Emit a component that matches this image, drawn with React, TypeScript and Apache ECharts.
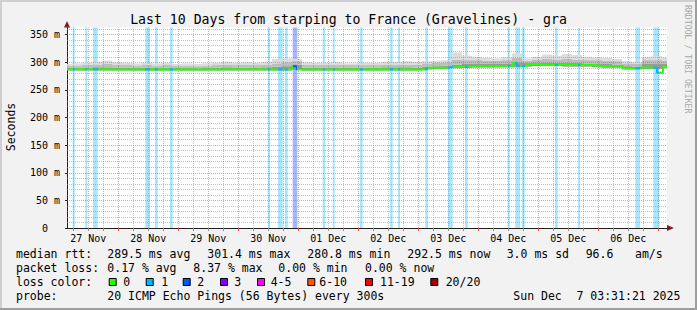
import React, { useEffect, useRef } from 'react';
import * as echarts from 'echarts';

const titleText = 'Last 10 Days from starping to France (Gravelines) - gra';
const yAxisTitle = 'Seconds';
const watermark = 'RRDTOOL / TOBI OETIKER';

// x values: hours since Thu 27 Nov 00:00
const startHour = 3.5225;
const endHour = 243.5225;

const dayLabels = ['27 Nov', '28 Nov', '29 Nov', '30 Nov', '01 Dec', '02 Dec', '03 Dec', '04 Dec', '05 Dec', '06 Dec'];
const dayLabelHours = [12, 36, 60, 84, 108, 132, 156, 180, 204, 228];
const midnightHours = [24, 48, 72, 96, 120, 144, 168, 192, 216, 240];
const sixHourTicks = [6, 12, 18, 24, 30, 36, 42, 48, 54, 60, 66, 72, 78, 84, 90, 96, 102, 108, 114, 120, 126, 132, 138, 144, 150, 156, 162, 168, 174, 180, 186, 192, 198, 204, 210, 216, 222, 228, 234, 240];

// median RTT (ms), step changes
const medianHours = [3.52, 12.7, 28.7, 40.7, 56.7, 72.7, 90.7, 93.5, 95.5, 108.7, 128.7, 147.5, 156.7, 161.9, 168.7, 181.9, 183.5, 187.5, 193.9, 215.5, 225.9, 232.7, 239.5, 241.9, 243.52];
const medianValues = [287.5, 287, 287.5, 287, 287.5, 287, 287.5, 293, 287, 287.5, 287, 290, 291.5, 292.5, 293.5, 299, 293.5, 296.5, 295, 293.5, 289, 290.5, 281, 291.5, 292.5];

// smoke (ms), one value every 4 hours from the start
const smokeLow = [285, 285, 285, 285, 285, 285, 285, 285, 285, 285, 285, 285, 285, 285, 285, 285, 285, 285, 285, 285, 285, 285, 285, 286, 285, 285, 285, 285, 285, 285, 285, 285, 285, 285, 285, 285, 287, 288, 289, 289, 290, 291, 291, 291, 291, 291, 292, 293, 293, 293, 292, 292, 292, 291, 290, 290, 287, 287, 288, 288, 289];
const smokeDark = [290, 290, 290, 291, 291, 290, 290, 290, 290, 290, 290, 290, 290, 289, 290, 290, 291, 290, 290, 290, 291, 292, 293, 296, 290, 290, 290, 290, 290, 290, 290, 290, 291, 291, 291, 290, 292, 293, 294, 296, 297, 297, 297, 297, 297, 300, 299, 300, 300, 299, 299, 299, 298, 298, 297, 296, 293, 292, 297, 297, 297];
const smokeMid = [294, 294, 295, 296, 297, 295, 295, 294, 295, 294, 295, 294, 294, 293, 294, 295, 296, 295, 295, 295, 296, 298, 300, 302, 295, 295, 295, 295, 295, 295, 295, 295, 296, 296, 296, 296, 298, 299, 300, 305, 304, 304, 303, 303, 304, 308, 303, 305, 306, 305, 306, 305, 304, 304, 303, 302, 298, 297, 304, 304, 303];
const smokeHigh = [297, 298, 299, 301, 303, 300, 299, 298, 299, 298, 299, 297, 298, 297, 298, 299, 301, 299, 300, 299, 301, 306, 307, 306, 300, 299, 299, 300, 298, 298, 299, 299, 301, 301, 302, 301, 302, 303, 304, 318, 312, 310, 308, 307, 309, 316, 307, 310, 314, 312, 315, 313, 310, 309, 308, 306, 302, 300, 310, 311, 309];

// loss periods (hours since 27 Nov 00:00) and loss level (pings lost of 20)
const lossStart = [5.8, 10.84, 13.92, 34.84, 38.72, 44.72, 83.92, 87.92, 90.72, 93.8, 105.8, 109.8, 120.72, 132.72, 135.92, 146.84, 155.92, 162.72, 179.8, 182.84, 185.52, 198.72, 207.92, 230.84, 238.04];
const lossEnd = [6.6, 11.64, 15.8, 36.72, 39.8, 45.8, 84.72, 89.8, 91.8, 95.64, 106.72, 110.6, 121.8, 133.8, 136.72, 147.92, 157.8, 163.8, 180.6, 184.72, 186.6, 199.8, 208.72, 232.72, 240.44];
const lossLevel = [1, 1, 1, 1, 1, 1, 1, 1, 1, 2, 1, 1, 1, 1, 1, 1, 1, 1, 1, 1, 1, 1, 1, 1, 1];

const rttLabel = 'median rtt:';
const rttStats = ['289.5 ms avg', '301.4 ms max', '280.8 ms min', '292.5 ms now', '3.0 ms sd', '96.6', 'am/s'];
const lossLabel = 'packet loss:';
const lossStats = ['0.17 % avg', '8.37 % max', '0.00 % min', '0.00 % now'];
const lossColorLabel = 'loss color:';
const lossColorNames = ['0', '1', '2', '3', '4-5', '6-10', '11-19', '20/20'];
const lossColors = ['#26ff00', '#00b8ff', '#0059ff', '#7e00ff', '#ff00ff', '#ff5500', '#ff0000', '#a10000'];
const probeLabel = 'probe:';
const probeText = '20 ICMP Echo Pings (56 Bytes) every 300s';
const dateParts = ['Sun Dec', '7 03:31:21 2025'];

const FONT = "'DejaVu Sans Mono', monospace";
const MINOR = 'rgba(140,140,140,0.55)';
const MAJOR = 'rgba(222,79,79,0.55)';
const bandColors: Record<number, string> = { 1: '#a9e5fb', 2: '#a6b6fb' };
const smokeColors = ['#9a9a9a', '#bdbdbd', '#dcdcdc'];

// layout
const rttX = [107.3, 207.3, 307.3, 407.3, 506.7, 585.7, 635];
const lossX = [107.3, 193.3, 278.3, 365];
const squareX = [108.7, 145.7, 182.7, 220, 257, 307.3, 365, 430.3];
const squareLabelX = [123.3, 161.3, 197.3, 234.3, 270.7, 319.3, 380, 445.7];
const dateX = [513.3, 576.5];

function buildOption() {
  const gridLines: any[] = [];
  sixHourTicks.forEach((h) => {
    if (h > startHour && h < endHour) {
      gridLines.push({ xAxis: h, lineStyle: { color: h % 24 === 0 ? MAJOR : MINOR } });
    }
  });
  for (let v = 10; v <= 360; v += 10) {
    gridLines.push({ yAxis: v, lineStyle: { color: v % 50 === 0 ? MAJOR : MINOR } });
  }

  const bands = lossStart.map((s, i) => [
    { xAxis: s, itemStyle: { color: bandColors[lossLevel[i]] } },
    { xAxis: Math.min(lossEnd[i], endHour) },
  ]);

  const smokeData = smokeLow.map((v, i) => {
    const c = startHour + 4 * i;
    return [Math.max(startHour, c - 2), Math.min(endHour, c + 2), v, smokeDark[i], smokeMid[i], smokeHigh[i]];
  });

  const text = (x: number, y: number, t: string, extra: any = {}) => ({
    type: 'text',
    x,
    y,
    silent: true,
    style: {
      text: t,
      fill: '#000',
      font: `11.5px ${FONT}`,
      textAlign: 'left',
      textVerticalAlign: 'middle',
      ...extra,
    },
  });

  const graphics: any[] = [
    { type: 'rect', shape: { x: 0, y: 0, width: 697, height: 2 }, style: { fill: '#cfcfcf' }, silent: true },
    { type: 'rect', shape: { x: 0, y: 0, width: 2, height: 310 }, style: { fill: '#cfcfcf' }, silent: true },
    { type: 'rect', shape: { x: 0, y: 308, width: 697, height: 2 }, style: { fill: '#9e9e9e' }, silent: true },
    { type: 'rect', shape: { x: 695, y: 0, width: 2, height: 310 }, style: { fill: '#9e9e9e' }, silent: true },
    { type: 'polygon', shape: { points: [[64, 27.5], [70, 27.5], [67, 21]] }, style: { fill: '#801f1f' }, silent: true, z: 50 },
    { type: 'polygon', shape: { points: [[667, 225], [667, 231], [674, 228]] }, style: { fill: '#801f1f' }, silent: true, z: 50 },
    text(348.5, 19, titleText, { font: `13.2px ${FONT}`, textAlign: 'center' }),
    { ...text(11, 127, yAxisTitle, { textAlign: 'center' }), rotation: Math.PI / 2 },
    { ...text(688, 5, watermark, { font: `8.2px ${FONT}`, fill: '#a8a8a8' }), rotation: -Math.PI / 2 },
    text(16, 254, rttLabel),
    text(16, 268, lossLabel),
    text(16, 282, lossColorLabel),
    text(16, 296, probeLabel),
    text(107.3, 296, probeText),
  ];
  rttStats.forEach((s, i) => graphics.push(text(rttX[i], 254, s)));
  lossStats.forEach((s, i) => graphics.push(text(lossX[i], 268, s)));
  lossColorNames.forEach((s, i) => {
    graphics.push({
      type: 'rect',
      shape: { x: squareX[i] + 0.5, y: 278.5, width: 7, height: 7 },
      style: { fill: lossColors[i], stroke: '#000', lineWidth: 1 },
      silent: true,
    });
    graphics.push(text(squareLabelX[i], 282, s));
  });
  dateParts.forEach((s, i) => graphics.push(text(dateX[i], 296, s)));

  return {
    animation: false,
    backgroundColor: '#f2f2f2',
    textStyle: { fontFamily: FONT },
    grid: {
      left: 67,
      top: 27.5,
      width: 600,
      height: 200.5,
      show: true,
      backgroundColor: '#ffffff',
      borderWidth: 0,
      outerBoundsMode: 'none',
    },
    xAxis: [
      {
        type: 'value',
        min: startHour,
        max: endHour,
        axisLine: { show: true, lineStyle: { color: '#1f1f1f', width: 1 } },
        axisTick: { show: true, length: 3, customValues: sixHourTicks, lineStyle: { color: '#8c8c8c' } },
        axisLabel: {
          customValues: dayLabelHours,
          formatter: (v: number) => {
            const i = dayLabelHours.findIndex((h) => Math.abs(h - v) < 0.01);
            return i >= 0 ? dayLabels[i] : '';
          },
          color: '#000',
          fontSize: 10,
          fontFamily: FONT,
          margin: 5,
        },
        splitLine: { show: false },
      },
      {
        type: 'value',
        min: startHour,
        max: endHour,
        position: 'bottom',
        axisLine: { show: false },
        axisTick: { show: true, length: 3, customValues: midnightHours, lineStyle: { color: '#de4f4f' } },
        axisLabel: { show: false },
        splitLine: { show: false },
      },
    ],
    yAxis: {
      type: 'value',
      min: 0,
      max: 363,
      interval: 50,
      axisLine: { show: true, lineStyle: { color: '#1f1f1f', width: 1 } },
      axisTick: { show: true, length: 2, lineStyle: { color: '#1f1f1f' } },
      axisLabel: {
        showMaxLabel: false,
        color: '#000',
        fontSize: 10,
        fontFamily: FONT,
        margin: 7,
        formatter: (v: number) => (v > 350 ? '' : v === 0 ? '{z|0}' : `${v} m`),
        rich: { z: { fontSize: 10, fontFamily: FONT, color: '#000', padding: [0, 12, 0, 0] } },
      },
      splitLine: { show: false },
    },
    visualMap: {
      type: 'piecewise',
      show: false,
      dimension: 0,
      seriesIndex: 1,
      pieces: lossStart.map((s, i) => ({ gte: s, lt: lossEnd[i], color: lossColors[lossLevel[i]] })),
      outOfRange: { color: '#26ff00' },
    },
    series: [
      {
        type: 'custom',
        name: 'smoke',
        data: smokeData,
        encode: { x: [0, 1], y: [2, 3, 4, 5] },
        z: 2,
        silent: true,
        renderItem: (params: any, api: any) => {
          const h0 = api.value(0);
          const h1 = api.value(1);
          const lv = [api.value(2), api.value(3), api.value(4), api.value(5)];
          const children: any[] = [];
          for (let j = 0; j < 3; j++) {
            const a = api.coord([h0, lv[j + 1]]);
            const b = api.coord([h1, lv[j]]);
            children.push({
              type: 'rect',
              shape: { x: a[0], y: a[1], width: b[0] - a[0], height: b[1] - a[1] },
              style: { fill: smokeColors[j] },
            });
          }
          return { type: 'group', children };
        },
        markArea: { silent: true, z: 1, data: bands },
        markLine: {
          silent: true,
          z: 5,
          symbol: ['none', 'none'],
          label: { show: false },
          lineStyle: { type: [1, 1], width: 1 },
          data: gridLines,
        },
      },
      {
        type: 'line',
        step: 'end',
        data: medianHours.map((h, i) => [h, medianValues[i]]),
        symbol: 'none',
        lineStyle: { width: 2 },
        z: 6,
        silent: true,
      },
    ],
    graphic: { elements: graphics },
  };
}

export default function App() {
  const ref = useRef<HTMLDivElement>(null);
  useEffect(() => {
    if (!ref.current) return;
    const chart = echarts.init(ref.current, null, { renderer: 'svg' });
    chart.setOption(buildOption() as any);
    return () => chart.dispose();
  }, []);
  return <div ref={ref} style={{ position: 'fixed', left: 0, top: 0, width: 697, height: 310 }} />;
}
